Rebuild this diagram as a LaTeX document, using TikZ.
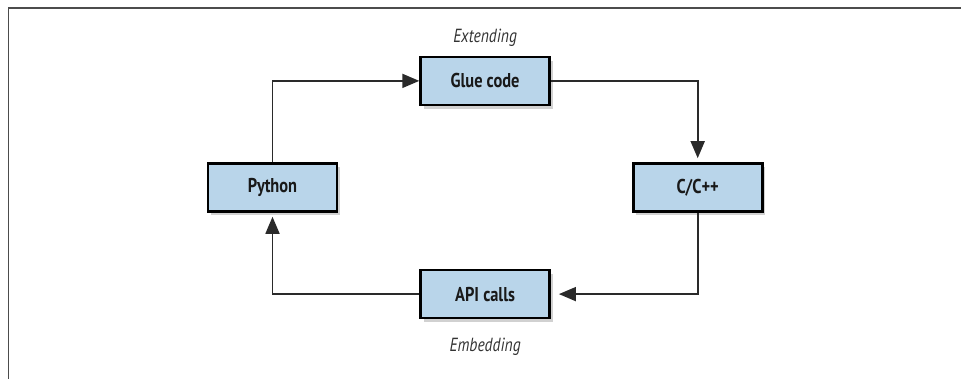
\documentclass[tikz,border=0pt]{standalone}
\usepackage{fontspec}
\setmainfont{PT Sans}[FakeStretch=0.82]
\usetikzlibrary{positioning,shadows,arrows.meta}

\definecolor{boxblue}{HTML}{B9D5EA}
\definecolor{lineGray}{HTML}{2A2A2A}

\begin{document}
\begin{tikzpicture}[
  x=1pt, y=1pt,
  node distance = 56pt and 81pt,
  block/.style  = {rectangle, draw=black, line width=2.6pt, fill=boxblue,
                   minimum width=129pt, minimum height=48pt, inner sep=0pt,
                   font=\fontsize{20}{24}\selectfont\bfseries, text=black!90,
                   drop shadow={shadow xshift=3pt, shadow yshift=-4pt, fill=black, opacity=0.18}},
  tag/.style    = {font=\fontsize{19}{22}\selectfont\itshape, text=black!80},
  arrow/.style  = {-{Triangle[length=17pt,width=14pt]}, line width=1.7pt, draw=lineGray}
]
\useasboundingbox (0,0) rectangle (961,-379);

% frame
\draw[line width=1.6pt, draw=black!70] (8.5,-379) -- (8.5,-8) -- (961,-8);

\node[block] (python) at (272.5,-187.5) {Python};
\node[block, above right=of python] (glue) {Glue code};
\node[block, below right=of glue]   (cpp)  {C/C++};
\node[block, below left=of cpp]     (api)  {API calls};

\node[tag, above=6pt of glue] (extend) {Extending};
\node[tag, below=15pt of api] (embed)  {Embedding};

\draw[arrow] (python.north) |- (glue.west);
\draw[arrow, shorten >=4pt] (glue.east) -| (cpp.north);
\draw[arrow, shorten >=8pt] (cpp.south) |- (api.east);
\draw[arrow, shorten >=4pt] (api.west) -| (python.south);

\end{tikzpicture}
\end{document}
